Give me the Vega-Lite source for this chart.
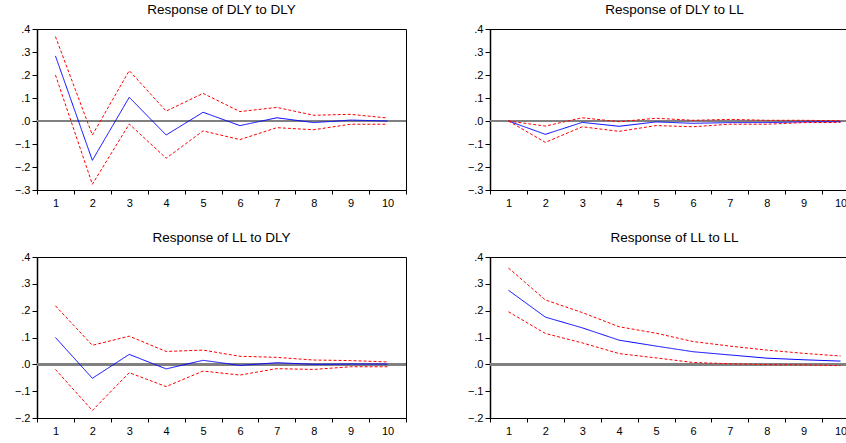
{
  "$schema": "https://vega.github.io/schema/vega-lite/v6.json",
  "background": "white",
  "padding": {"left": 13, "top": 2, "right": 0, "bottom": 0},
  "bounds": "flush",
  "spacing": {"column": 84, "row": 67},
  "columns": 2,
  "config": {
    "font": "Liberation Sans",
    "view": {"stroke": "black", "strokeWidth": 1},
    "title": {"fontSize": 13.5, "fontWeight": "normal", "color": "black", "offset": 7, "font": "Liberation Sans"},
    "axis": {"domainColor": "black", "tickColor": "black", "labelColor": "black", "labelFontSize": 11, "grid": false, "title": null, "labelFont": "Liberation Sans", "labelFlush": false, "labelBound": false}
  },
  "data": {"values": [
    {"panel": 1, "h": 1, "s": "resp", "v": 0.283}, {"panel": 1, "h": 2, "s": "resp", "v": -0.171}, {"panel": 1, "h": 3, "s": "resp", "v": 0.103}, {"panel": 1, "h": 4, "s": "resp", "v": -0.061}, {"panel": 1, "h": 5, "s": "resp", "v": 0.038}, {"panel": 1, "h": 6, "s": "resp", "v": -0.020}, {"panel": 1, "h": 7, "s": "resp", "v": 0.014}, {"panel": 1, "h": 8, "s": "resp", "v": -0.007}, {"panel": 1, "h": 9, "s": "resp", "v": 0.004}, {"panel": 1, "h": 10, "s": "resp", "v": 0.0},
    {"panel": 1, "h": 1, "s": "upper", "v": 0.367}, {"panel": 1, "h": 2, "s": "upper", "v": -0.061}, {"panel": 1, "h": 3, "s": "upper", "v": 0.219}, {"panel": 1, "h": 4, "s": "upper", "v": 0.043}, {"panel": 1, "h": 5, "s": "upper", "v": 0.120}, {"panel": 1, "h": 6, "s": "upper", "v": 0.041}, {"panel": 1, "h": 7, "s": "upper", "v": 0.059}, {"panel": 1, "h": 8, "s": "upper", "v": 0.025}, {"panel": 1, "h": 9, "s": "upper", "v": 0.029}, {"panel": 1, "h": 10, "s": "upper", "v": 0.013},
    {"panel": 1, "h": 1, "s": "lower", "v": 0.200}, {"panel": 1, "h": 2, "s": "lower", "v": -0.275}, {"panel": 1, "h": 3, "s": "lower", "v": -0.013}, {"panel": 1, "h": 4, "s": "lower", "v": -0.162}, {"panel": 1, "h": 5, "s": "lower", "v": -0.043}, {"panel": 1, "h": 6, "s": "lower", "v": -0.081}, {"panel": 1, "h": 7, "s": "lower", "v": -0.029}, {"panel": 1, "h": 8, "s": "lower", "v": -0.038}, {"panel": 1, "h": 9, "s": "lower", "v": -0.014}, {"panel": 1, "h": 10, "s": "lower", "v": -0.014},
    {"panel": 2, "h": 1, "s": "resp", "v": 0.0}, {"panel": 2, "h": 2, "s": "resp", "v": -0.058}, {"panel": 2, "h": 3, "s": "resp", "v": -0.006}, {"panel": 2, "h": 4, "s": "resp", "v": -0.023}, {"panel": 2, "h": 5, "s": "resp", "v": -0.004}, {"panel": 2, "h": 6, "s": "resp", "v": -0.010}, {"panel": 2, "h": 7, "s": "resp", "v": -0.007}, {"panel": 2, "h": 8, "s": "resp", "v": -0.007}, {"panel": 2, "h": 9, "s": "resp", "v": -0.004}, {"panel": 2, "h": 10, "s": "resp", "v": -0.003},
    {"panel": 2, "h": 1, "s": "upper", "v": 0.0}, {"panel": 2, "h": 2, "s": "upper", "v": -0.022}, {"panel": 2, "h": 3, "s": "upper", "v": 0.014}, {"panel": 2, "h": 4, "s": "upper", "v": -0.003}, {"panel": 2, "h": 5, "s": "upper", "v": 0.012}, {"panel": 2, "h": 6, "s": "upper", "v": 0.003}, {"panel": 2, "h": 7, "s": "upper", "v": 0.007}, {"panel": 2, "h": 8, "s": "upper", "v": 0.003}, {"panel": 2, "h": 9, "s": "upper", "v": 0.003}, {"panel": 2, "h": 10, "s": "upper", "v": 0.001},
    {"panel": 2, "h": 1, "s": "lower", "v": 0.0}, {"panel": 2, "h": 2, "s": "lower", "v": -0.093}, {"panel": 2, "h": 3, "s": "lower", "v": -0.025}, {"panel": 2, "h": 4, "s": "lower", "v": -0.045}, {"panel": 2, "h": 5, "s": "lower", "v": -0.020}, {"panel": 2, "h": 6, "s": "lower", "v": -0.025}, {"panel": 2, "h": 7, "s": "lower", "v": -0.014}, {"panel": 2, "h": 8, "s": "lower", "v": -0.014}, {"panel": 2, "h": 9, "s": "lower", "v": -0.007}, {"panel": 2, "h": 10, "s": "lower", "v": -0.006},
    {"panel": 3, "h": 1, "s": "resp", "v": 0.100}, {"panel": 3, "h": 2, "s": "resp", "v": -0.052}, {"panel": 3, "h": 3, "s": "resp", "v": 0.037}, {"panel": 3, "h": 4, "s": "resp", "v": -0.017}, {"panel": 3, "h": 5, "s": "resp", "v": 0.015}, {"panel": 3, "h": 6, "s": "resp", "v": -0.004}, {"panel": 3, "h": 7, "s": "resp", "v": 0.006}, {"panel": 3, "h": 8, "s": "resp", "v": 0.0}, {"panel": 3, "h": 9, "s": "resp", "v": 0.001}, {"panel": 3, "h": 10, "s": "resp", "v": 0.001},
    {"panel": 3, "h": 1, "s": "upper", "v": 0.218}, {"panel": 3, "h": 2, "s": "upper", "v": 0.071}, {"panel": 3, "h": 3, "s": "upper", "v": 0.105}, {"panel": 3, "h": 4, "s": "upper", "v": 0.048}, {"panel": 3, "h": 5, "s": "upper", "v": 0.053}, {"panel": 3, "h": 6, "s": "upper", "v": 0.030}, {"panel": 3, "h": 7, "s": "upper", "v": 0.026}, {"panel": 3, "h": 8, "s": "upper", "v": 0.016}, {"panel": 3, "h": 9, "s": "upper", "v": 0.014}, {"panel": 3, "h": 10, "s": "upper", "v": 0.009},
    {"panel": 3, "h": 1, "s": "lower", "v": -0.019}, {"panel": 3, "h": 2, "s": "lower", "v": -0.172}, {"panel": 3, "h": 3, "s": "lower", "v": -0.031}, {"panel": 3, "h": 4, "s": "lower", "v": -0.083}, {"panel": 3, "h": 5, "s": "lower", "v": -0.025}, {"panel": 3, "h": 6, "s": "lower", "v": -0.040}, {"panel": 3, "h": 7, "s": "lower", "v": -0.016}, {"panel": 3, "h": 8, "s": "lower", "v": -0.019}, {"panel": 3, "h": 9, "s": "lower", "v": -0.009}, {"panel": 3, "h": 10, "s": "lower", "v": -0.009},
    {"panel": 4, "h": 1, "s": "resp", "v": 0.276}, {"panel": 4, "h": 2, "s": "resp", "v": 0.176}, {"panel": 4, "h": 3, "s": "resp", "v": 0.136}, {"panel": 4, "h": 4, "s": "resp", "v": 0.090}, {"panel": 4, "h": 5, "s": "resp", "v": 0.068}, {"panel": 4, "h": 6, "s": "resp", "v": 0.047}, {"panel": 4, "h": 7, "s": "resp", "v": 0.035}, {"panel": 4, "h": 8, "s": "resp", "v": 0.023}, {"panel": 4, "h": 9, "s": "resp", "v": 0.017}, {"panel": 4, "h": 10, "s": "resp", "v": 0.012},
    {"panel": 4, "h": 1, "s": "upper", "v": 0.359}, {"panel": 4, "h": 2, "s": "upper", "v": 0.240}, {"panel": 4, "h": 3, "s": "upper", "v": 0.193}, {"panel": 4, "h": 4, "s": "upper", "v": 0.140}, {"panel": 4, "h": 5, "s": "upper", "v": 0.116}, {"panel": 4, "h": 6, "s": "upper", "v": 0.085}, {"panel": 4, "h": 7, "s": "upper", "v": 0.068}, {"panel": 4, "h": 8, "s": "upper", "v": 0.053}, {"panel": 4, "h": 9, "s": "upper", "v": 0.041}, {"panel": 4, "h": 10, "s": "upper", "v": 0.031},
    {"panel": 4, "h": 1, "s": "lower", "v": 0.196}, {"panel": 4, "h": 2, "s": "lower", "v": 0.115}, {"panel": 4, "h": 3, "s": "lower", "v": 0.080}, {"panel": 4, "h": 4, "s": "lower", "v": 0.040}, {"panel": 4, "h": 5, "s": "lower", "v": 0.024}, {"panel": 4, "h": 6, "s": "lower", "v": 0.007}, {"panel": 4, "h": 7, "s": "lower", "v": 0.002}, {"panel": 4, "h": 8, "s": "lower", "v": -0.001}, {"panel": 4, "h": 9, "s": "lower", "v": -0.002}, {"panel": 4, "h": 10, "s": "lower", "v": -0.005}
  ]},
  "concat": [
    {
      "title": "Response of DLY to DLY",
      "width": 369, "height": 161,
      "transform": [{"filter": "datum.panel == 1"}],
      "layer": [
        {"mark": {"type": "rule", "color": "#808080", "strokeWidth": 2}, "encoding": {"y": {"datum": 0, "type": "quantitative"}}},
        {"mark": {"type": "line", "strokeWidth": 1, "clip": true},
         "encoding": {
           "x": {"field": "h", "type": "ordinal", "scale": {"type": "band", "paddingInner": 0, "paddingOuter": 0}, "axis": {"labelAngle": 0, "tickBand": "extent", "tickSize": 4, "labelPadding": 3, "labelOverlap": false}},
           "y": {"field": "v", "type": "quantitative", "scale": {"domain": [-0.3, 0.4], "nice": false, "zero": false}, "axis": {"values": [-0.3, -0.2, -0.1, 0, 0.1, 0.2, 0.3, 0.4], "tickCount": 20, "labelExpr": "replace(format(datum.value, '.1f'), '0.', '.')", "tickSize": 5, "domainWidth": 1.5, "labelOverlap": false}},
           "detail": {"field": "s"},
           "color": {"field": "s", "type": "nominal", "scale": {"domain": ["resp", "upper", "lower"], "range": ["#0000ff", "#ff0000", "#ff0000"]}, "legend": null},
           "strokeDash": {"field": "s", "type": "nominal", "scale": {"domain": ["resp", "upper", "lower"], "range": [[1, 0], [3, 2], [3, 2]]}, "legend": null}
         }}
      ]
    },
    {
      "title": "Response of DLY to LL",
      "width": 369, "height": 161,
      "transform": [{"filter": "datum.panel == 2"}],
      "layer": [
        {"mark": {"type": "rule", "color": "#808080", "strokeWidth": 2}, "encoding": {"y": {"datum": 0, "type": "quantitative"}}},
        {"mark": {"type": "line", "strokeWidth": 1, "clip": true},
         "encoding": {
           "x": {"field": "h", "type": "ordinal", "scale": {"type": "band", "paddingInner": 0, "paddingOuter": 0}, "axis": {"labelAngle": 0, "tickBand": "extent", "tickSize": 4, "labelPadding": 3, "labelOverlap": false}},
           "y": {"field": "v", "type": "quantitative", "scale": {"domain": [-0.3, 0.4], "nice": false, "zero": false}, "axis": {"values": [-0.3, -0.2, -0.1, 0, 0.1, 0.2, 0.3, 0.4], "tickCount": 20, "labelExpr": "replace(format(datum.value, '.1f'), '0.', '.')", "tickSize": 5, "domainWidth": 1.5, "labelOverlap": false}},
           "detail": {"field": "s"},
           "color": {"field": "s", "type": "nominal", "scale": {"domain": ["resp", "upper", "lower"], "range": ["#0000ff", "#ff0000", "#ff0000"]}, "legend": null},
           "strokeDash": {"field": "s", "type": "nominal", "scale": {"domain": ["resp", "upper", "lower"], "range": [[1, 0], [3, 2], [3, 2]]}, "legend": null}
         }}
      ]
    },
    {
      "title": "Response of LL to DLY",
      "width": 369, "height": 161,
      "transform": [{"filter": "datum.panel == 3"}],
      "layer": [
        {"mark": {"type": "rule", "color": "#808080", "strokeWidth": 2}, "encoding": {"y": {"datum": 0, "type": "quantitative"}}},
        {"mark": {"type": "line", "strokeWidth": 1, "clip": true},
         "encoding": {
           "x": {"field": "h", "type": "ordinal", "scale": {"type": "band", "paddingInner": 0, "paddingOuter": 0}, "axis": {"labelAngle": 0, "tickBand": "extent", "tickSize": 4, "labelPadding": 3, "labelOverlap": false}},
           "y": {"field": "v", "type": "quantitative", "scale": {"domain": [-0.2, 0.4], "nice": false, "zero": false}, "axis": {"values": [-0.2, -0.1, 0, 0.1, 0.2, 0.3, 0.4], "tickCount": 20, "labelExpr": "replace(format(datum.value, '.1f'), '0.', '.')", "tickSize": 5, "domainWidth": 1.5, "labelOverlap": false}},
           "detail": {"field": "s"},
           "color": {"field": "s", "type": "nominal", "scale": {"domain": ["resp", "upper", "lower"], "range": ["#0000ff", "#ff0000", "#ff0000"]}, "legend": null},
           "strokeDash": {"field": "s", "type": "nominal", "scale": {"domain": ["resp", "upper", "lower"], "range": [[1, 0], [3, 2], [3, 2]]}, "legend": null}
         }}
      ]
    },
    {
      "title": "Response of LL to LL",
      "width": 369, "height": 161,
      "transform": [{"filter": "datum.panel == 4"}],
      "layer": [
        {"mark": {"type": "rule", "color": "#808080", "strokeWidth": 2}, "encoding": {"y": {"datum": 0, "type": "quantitative"}}},
        {"mark": {"type": "line", "strokeWidth": 1, "clip": true},
         "encoding": {
           "x": {"field": "h", "type": "ordinal", "scale": {"type": "band", "paddingInner": 0, "paddingOuter": 0}, "axis": {"labelAngle": 0, "tickBand": "extent", "tickSize": 4, "labelPadding": 3, "labelOverlap": false}},
           "y": {"field": "v", "type": "quantitative", "scale": {"domain": [-0.2, 0.4], "nice": false, "zero": false}, "axis": {"values": [-0.2, -0.1, 0, 0.1, 0.2, 0.3, 0.4], "tickCount": 20, "labelExpr": "replace(format(datum.value, '.1f'), '0.', '.')", "tickSize": 5, "domainWidth": 1.5, "labelOverlap": false}},
           "detail": {"field": "s"},
           "color": {"field": "s", "type": "nominal", "scale": {"domain": ["resp", "upper", "lower"], "range": ["#0000ff", "#ff0000", "#ff0000"]}, "legend": null},
           "strokeDash": {"field": "s", "type": "nominal", "scale": {"domain": ["resp", "upper", "lower"], "range": [[1, 0], [3, 2], [3, 2]]}, "legend": null}
         }}
      ]
    }
  ]
}
